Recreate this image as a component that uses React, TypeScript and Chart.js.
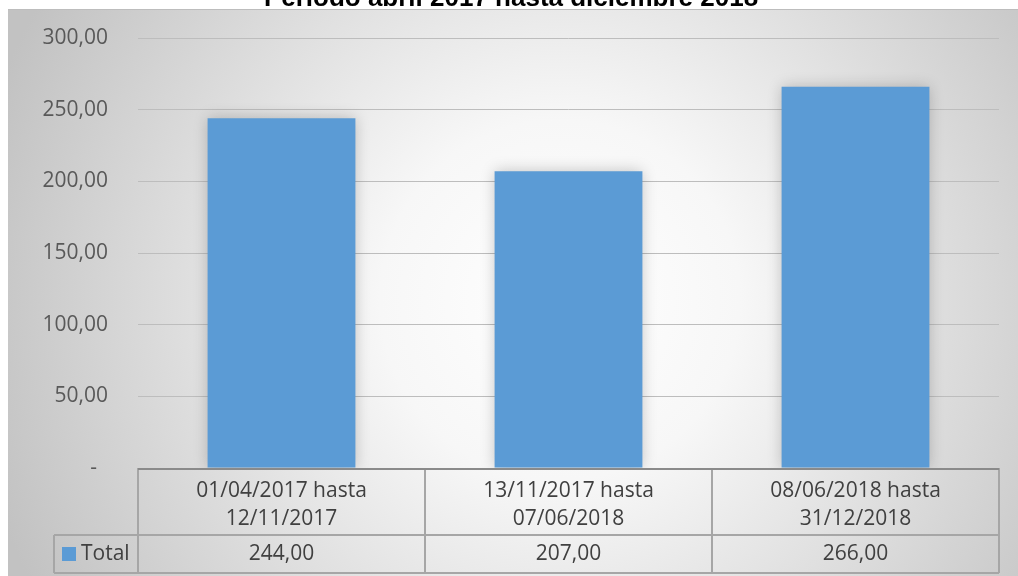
import React, { useEffect, useRef } from "react";
import { Chart, registerables } from "chart.js";

Chart.register(...registerables);

const TITLE = "Periodo abril 2017 hasta diciembre 2018";
const categories: string[][] = [
  ["01/04/2017 hasta", "12/11/2017"],
  ["13/11/2017 hasta", "07/06/2018"],
  ["08/06/2018 hasta", "31/12/2018"],
];
const seriesName = "Total";
const totals = [244, 207, 266];
const yTicks = [0, 50, 100, 150, 200, 250, 300];

const FONT = "'Open Sans', 'Noto Sans', sans-serif";
const fmt = (v: number) => (v === 0 ? "-  " : v.toFixed(2).replace(".", ","));

const bgPlugin = {
  id: "bg",
  beforeDraw(chart: any) {
    const { ctx, width, height } = chart;
    ctx.save();
    ctx.fillStyle = "#ffffff";
    ctx.fillRect(0, 0, width, height);
    const g = ctx.createRadialGradient(560, 300, 0, 560, 300, 600);
    g.addColorStop(0, "#ffffff");
    g.addColorStop(0.3, "#f7f7f7");
    g.addColorStop(1, "#c2c2c2");
    ctx.fillStyle = g;
    ctx.fillRect(8, 9, width - 8, height - 9);
    ctx.strokeStyle = "#bdbdbd";
    ctx.lineWidth = 1;
    ctx.beginPath();
    ctx.moveTo(8, 9.5);
    ctx.lineTo(width, 9.5);
    ctx.stroke();
    // title (partly cut off at top)
    ctx.fillStyle = "#000000";
    ctx.font = `bold 26px 'Liberation Sans', Arial, sans-serif`;
    ctx.textAlign = "center";
    ctx.textBaseline = "alphabetic";
    ctx.fillText(TITLE, 511, 6);
    ctx.restore();
  },
  beforeDatasetsDraw(chart: any) {
    const ctx = chart.ctx;
    ctx.save();
    ctx.shadowColor = "rgba(0,0,0,0.22)";
    ctx.shadowBlur = 14;
  },
  afterDatasetsDraw(chart: any) {
    chart.ctx.restore();
  },
  afterDraw(chart: any) {
    const { ctx, chartArea } = chart;
    const xs = chart.scales.x;
    const left = chartArea.left;
    const right = chartArea.right;
    const top = chartArea.bottom;
    const mid = 535;
    const bot = 573;
    const legLeft = 54;
    const n = categories.length;
    const colW = (right - left) / n;
    ctx.save();
    ctx.strokeStyle = "#a6a6a6";
    ctx.lineWidth = 2;
    ctx.beginPath();
    ctx.moveTo(legLeft, mid);
    ctx.lineTo(right, mid);
    ctx.moveTo(legLeft, bot);
    ctx.lineTo(right, bot);
    ctx.moveTo(legLeft, mid);
    ctx.lineTo(legLeft, bot);
    for (let i = 0; i <= n; i++) {
      const x = left + i * colW;
      ctx.moveTo(x, top);
      ctx.lineTo(x, bot);
    }
    ctx.stroke();
    ctx.strokeStyle = "#8a8a8a";
    ctx.lineWidth = 2;
    ctx.beginPath();
    ctx.moveTo(left, top + 1);
    ctx.lineTo(right, top + 1);
    ctx.stroke();

    ctx.fillStyle = "#404040";
    ctx.font = `21px ${FONT}`;
    ctx.textAlign = "center";
    ctx.textBaseline = "middle";
    categories.forEach((lines, i) => {
      const cx = xs.getPixelForValue(i);
      ctx.fillText(lines[0], cx, 491);
      ctx.fillText(lines[1], cx, 519);
      ctx.fillText(fmt(totals[i]), cx, 554);
    });
    ctx.fillStyle = "#5b9bd5";
    ctx.fillRect(62, 547, 14, 14);
    ctx.fillStyle = "#404040";
    ctx.textAlign = "left";
    ctx.fillText(seriesName, 81, 554);
    ctx.restore();
  },
};

export default function App() {
  const ref = useRef<HTMLCanvasElement | null>(null);
  useEffect(() => {
    if (!ref.current) return;
    const chart = new Chart(ref.current, {
      type: "bar",
      data: {
        labels: categories.map((c) => c.join(" ")),
        datasets: [
          {
            label: seriesName,
            data: totals,
            backgroundColor: "#5b9bd5",
            borderWidth: 0,
            categoryPercentage: 1,
            barPercentage: 0.515,
          },
        ],
      },
      options: {
        responsive: true,
        maintainAspectRatio: false,
        animation: false,
        layout: { padding: { left: 8, top: 38, right: 19, bottom: 108 } },
        plugins: {
          legend: { display: false },
          title: { display: false },
          tooltip: { enabled: false },
        },
        scales: {
          x: { display: false },
          y: {
            min: 0,
            max: 300,
            afterFit: (axis: any) => {
              axis.width = 130;
              axis.paddingTop = 0;
              axis.paddingBottom = 0;
            },
            afterBuildTicks: (axis: any) => {
              axis.ticks = yTicks.map((v) => ({ value: v }));
            },
            border: { display: false },
            grid: { color: "#bdbdbd", lineWidth: 1, drawTicks: false },
            ticks: {
              padding: 30,
              color: "#595959",
              font: { family: FONT, size: 21 },
              callback: (v: any) => fmt(Number(v)),
            },
          },
        },
      },
      plugins: [bgPlugin],
    });
    return () => chart.destroy();
  }, []);
  return (
    <div style={{ position: "fixed", left: 0, top: 0, width: 1018, height: 576 }}>
      <canvas ref={ref} />
    </div>
  );
}
